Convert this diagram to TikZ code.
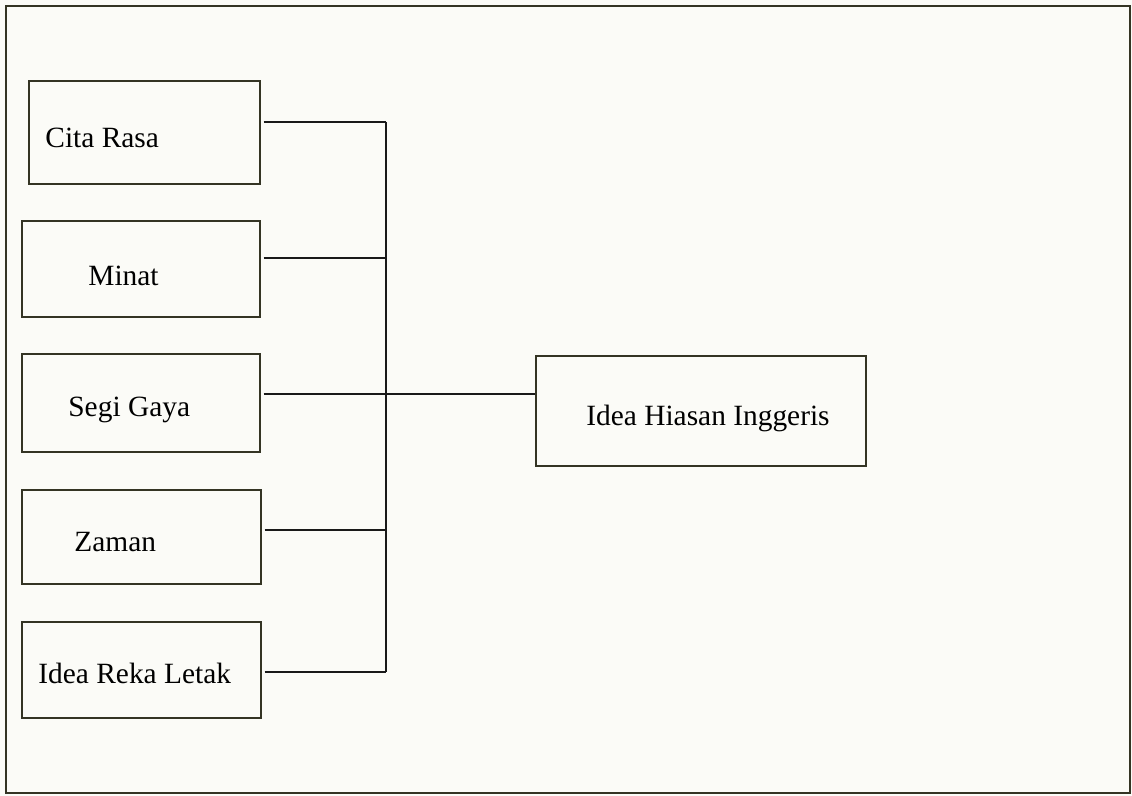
\documentclass[tikz,border=0pt]{standalone}
\usepackage{fontspec}
\setmainfont{Liberation Serif}
\usetikzlibrary{calc, positioning}

\definecolor{paper}{RGB}{251,251,247}
\definecolor{ink}{RGB}{52,52,36}

\tikzset{
    box/.style={rectangle, draw=ink, line width=0.55pt, inner sep=0pt},
    lbl/.style={anchor=base west, inner sep=0pt, font=\fontsize{14.7}{17}\selectfont},
    link/.style={line width=0.9pt, draw=black!90}
}

\begin{document}
\begin{tikzpicture}[x=0.5pt, y=-0.5pt]
                % page and frame
                \fill[paper] (0,0) rectangle (1132,796);
                \draw[ink, line width=0.6pt] (6,6) rectangle (1130,793);

                % left boxes
                \node[box, minimum width=115.5pt, minimum height=51.5pt] (cita) at (144.5,132.5) {};
                \node[box, minimum width=119pt, minimum height=48pt] (minat) at (141,269) {};
                \node[box, minimum width=119pt, minimum height=49pt] (segi) at (141,403) {};
                \node[box, minimum width=119.5pt, minimum height=47pt] (zaman) at (141.5,537) {};
                \node[box, minimum width=119.5pt, minimum height=48pt] (reka) at (141.5,670) {};

                % right box
                \node[box, minimum width=165pt, minimum height=55pt] (hiasan) at (701,411) {};

                % labels
                \node[lbl] (citaT) at (45,148) {Cita Rasa};
                \node[lbl] (minatT) at (88,286) {Minat};
                \node[lbl] (segiT) at (68,417) {Segi Gaya};
                \node[lbl] (zamanT) at (74,552) {Zaman};
                \node[lbl] (rekaT) at (38,684) {Idea Reka Letak};
                \node[lbl] (hiasanT) at (586,426) {Idea Hiasan Inggeris};

                % connectors to the bus
                \foreach \b/\y in {cita/122, minat/258, segi/394, zaman/530, reka/672} {
                    \coordinate (j\b) at (386,\y);
                    \draw[link] ([xshift=1.5pt]\b.east |- j\b) -- (j\b);
                }
                \draw[link] (jcita) -- (jreka);
                \draw[link] (jsegi) -- (hiasan.west |- jsegi);
            \end{tikzpicture}
\end{document}
